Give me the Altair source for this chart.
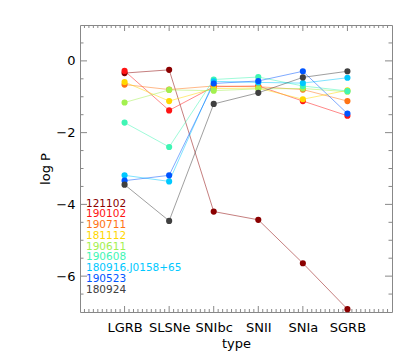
import altair as alt
import pandas as pd

types = ["LGRB", "SLSNe", "SNIbc", "SNII", "SNIa", "SGRB"]
names = ["121102", "190102", "190711", "181112", "190611", "190608",
         "180916.J0158+65", "190523", "180924"]
colors = ["#8b0000", "#ff1414", "#ff7314", "#ffd700", "#a3f04f", "#3ff5b4",
          "#00c8ff", "#0055ff", "#404040"]

logp_121102 = [-0.34, -0.25, -4.20, -4.43, -5.64, -6.92]
logp_190102 = [-0.28, -1.38, -0.72, -0.70, -1.12, -1.53]
logp_190711 = [-0.66, -0.80, -0.70, -0.72, -0.80, -1.12]
logp_181112 = [-0.59, -1.12, -0.77, -0.76, -1.07, -0.82]
logp_190611 = [-1.16, -0.81, -0.83, -0.78, -0.77, -0.86]
logp_190608 = [-1.72, -2.40, -0.52, -0.45, -0.70, -0.84]
logp_180916 = [-3.19, -3.36, -0.57, -0.60, -0.62, -0.47]
logp_190523 = [-3.34, -3.19, -0.63, -0.56, -0.29, -1.47]
logp_180924 = [-3.45, -4.46, -1.20, -0.89, -0.46, -0.29]

series = [logp_121102, logp_190102, logp_190711, logp_181112, logp_190611,
          logp_190608, logp_180916, logp_190523, logp_180924]

# axis tick positions (data units)
x_major = [1, 2, 3, 4, 5, 6]
x_minor = [round(i * 0.1, 2) for i in range(1, 70) if i % 10 != 0]
y_major = [-6, -4, -2, 0]
y_minor = [round(-7 + i * 0.5, 2) for i in range(1, 16)
           if round(-7 + i * 0.5, 2) not in (-6, -4, -2, 0)]

rows = []
for k, (nm, vals) in enumerate(zip(names, series)):
    for i, v in enumerate(vals):
        rows.append({"name": nm, "k": k, "xi": i + 1, "type": types[i], "logp": v})
df = pd.DataFrame(rows)
leg = pd.DataFrame({"name": names, "k": list(range(len(names)))})

W, H = 312, 287
AX = "#888888"
FONT = "DejaVu Sans"

xdom = alt.Scale(domain=[0, 7], nice=False, zero=False)
ydom = alt.Scale(domain=[-7, 1], nice=False, zero=False)
cscale = alt.Scale(domain=names, range=colors)

type_list = "[" + ",".join("'%s'" % t for t in types) + "]"
label_expr = "%s[datum.value - 1]" % type_list

x_main = alt.Axis(values=x_major, labelExpr=label_expr, ticks=False, tickSize=0,
                  domain=False, grid=False, title="type", orient="bottom",
                  labelFontSize=13, titleFontSize=13, labelPadding=9, titlePadding=3,
                  labelFont=FONT, titleFont=FONT, labelColor="black",
                  titleColor="black", titleFontWeight="normal")
y_main = alt.Axis(values=y_major,
                  labelExpr="replace(format(datum.value, 'd'), '-', '\u2212')",
                  ticks=False, tickSize=0, domain=False, grid=False,
                  title="log P", orient="left", labelFontSize=13, titleFontSize=13,
                  labelPadding=5, titlePadding=3, labelFont=FONT, titleFont=FONT,
                  labelColor="black", titleColor="black", titleFontWeight="normal")

base = alt.Chart(df)
lines = base.mark_line(strokeWidth=1, opacity=0.5).encode(
    x=alt.X("xi:Q", scale=xdom, axis=x_main),
    y=alt.Y("logp:Q", scale=ydom, axis=y_main),
    color=alt.Color("name:N", scale=cscale, legend=None),
    order=alt.Order("xi:Q"),
)
points = base.mark_circle(size=38, opacity=1).encode(
    x=alt.X("xi:Q", scale=xdom),
    y=alt.Y("logp:Q", scale=ydom),
    color=alt.Color("name:N", scale=cscale, legend=None),
    order=alt.Order("k:Q"),
)
main = alt.layer(lines, points)


def xticks(vals, length):
    d = pd.DataFrame({"v": vals})
    bot = alt.Chart(d).mark_rule(color=AX, strokeWidth=1).encode(
        x=alt.X("v:Q", scale=xdom, axis=None),
        y=alt.value(H), y2=alt.value(H - length))
    top = alt.Chart(d).mark_rule(color=AX, strokeWidth=1).encode(
        x=alt.X("v:Q", scale=xdom, axis=None),
        y=alt.value(0), y2=alt.value(length))
    return [bot, top]


def yticks(vals, length):
    d = pd.DataFrame({"v": vals})
    left = alt.Chart(d).mark_rule(color=AX, strokeWidth=1).encode(
        y=alt.Y("v:Q", scale=ydom, axis=None),
        x=alt.value(0), x2=alt.value(length))
    right = alt.Chart(d).mark_rule(color=AX, strokeWidth=1).encode(
        y=alt.Y("v:Q", scale=ydom, axis=None),
        x=alt.value(W), x2=alt.value(W - length))
    return [left, right]


tick_layers = xticks(x_major, 6) + xticks(x_minor, 3) + yticks(y_major, 7) + yticks(y_minor, 3.5)

legend_text = alt.Chart(leg).mark_text(align="left", baseline="middle", fontSize=10.5,
                                       font=FONT).encode(
    x=alt.value(6),
    y=alt.Y("name:N", sort=names, axis=None,
            scale=alt.Scale(type="point", range=[178.5, 264.5], padding=0)),
    text="name:N",
    color=alt.Color("name:N", scale=cscale, legend=None),
)

chart = alt.layer(*tick_layers, main, legend_text).resolve_scale(
    x="independent", y="independent"
).properties(
    width=W, height=H,
    autosize=alt.AutoSizeParams(type="none"),
    padding={"left": 72, "top": 17, "right": 15, "bottom": 40},
    background="white",
).configure_view(stroke=AX, strokeWidth=1)

chart.save("out.html", embed_options={"renderer": "svg", "actions": False})
